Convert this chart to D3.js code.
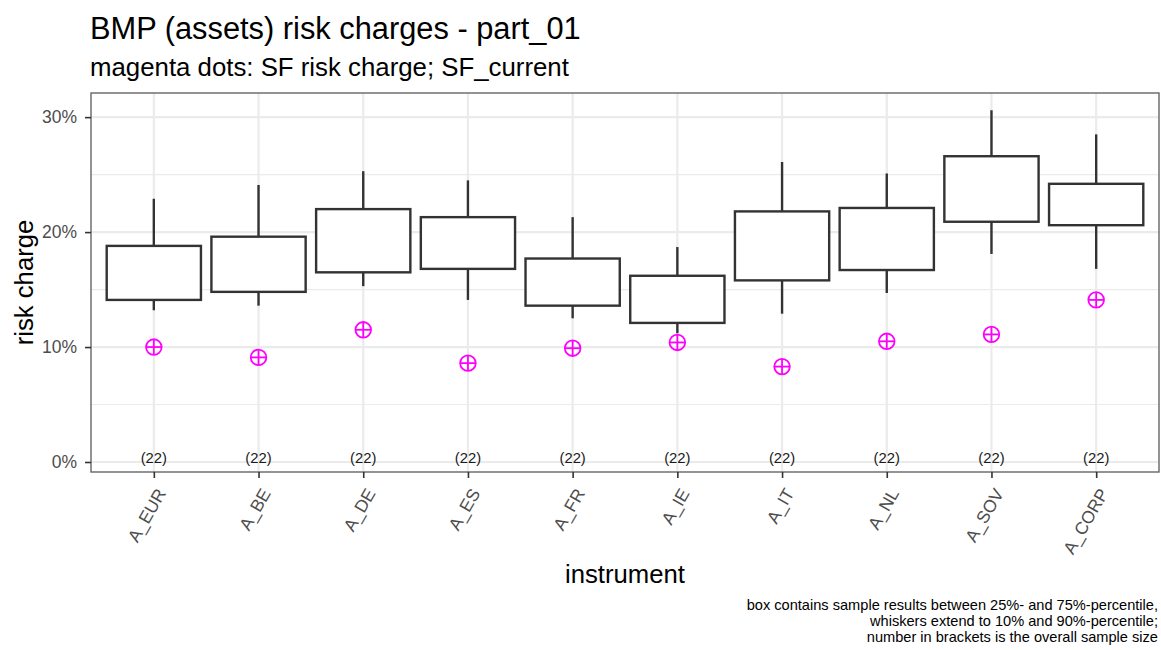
<!DOCTYPE html>
<html>
<head>
<meta charset="utf-8">
<script src="https://cdn.jsdelivr.net/npm/d3@7"></script>
<style>
body { margin: 0; background: #fff; }
text { font-family: "Liberation Sans", Arial, sans-serif; }
</style>
</head>
<body>
<script>
// categories and values
var instruments = ["A_EUR", "A_BE", "A_DE", "A_ES", "A_FR", "A_IE", "A_IT", "A_NL", "A_SOV", "A_CORP"];
var p10 = [0.132, 0.136, 0.153, 0.141, 0.125, 0.112, 0.129, 0.147, 0.181, 0.168];
var p25 = [0.141, 0.148, 0.165, 0.168, 0.136, 0.121, 0.158, 0.167, 0.209, 0.206];
var p75 = [0.188, 0.196, 0.220, 0.213, 0.177, 0.162, 0.218, 0.221, 0.266, 0.242];
var p90 = [0.229, 0.241, 0.253, 0.245, 0.213, 0.187, 0.261, 0.251, 0.306, 0.285];
var sfCurrent = [0.100, 0.091, 0.115, 0.086, 0.099, 0.104, 0.083, 0.105, 0.111, 0.141];
var sampleSize = [22, 22, 22, 22, 22, 22, 22, 22, 22, 22];
var yTicks = [0, 0.1, 0.2, 0.3];
var yMinor = [0.05, 0.15, 0.25];

var width = 1161, height = 650;
var margin = {left: 91, right: 2, top: 93, bottom: 178};

var svg = d3.select("body").append("svg")
    .attr("width", width)
    .attr("height", height);

var x = d3.scalePoint()
    .domain(instruments)
    .range([margin.left, width - margin.right])
    .padding(0.6);

var y = d3.scaleLinear()
    .domain([-0.0087, 0.321])
    .range([height - margin.bottom, margin.top]);

var step = x.step();
var boxW = step * 0.9;

// gridlines
var grid = svg.append("g");
grid.selectAll(".minor").data(yMinor).enter().append("line")
    .attr("x1", margin.left).attr("x2", width - margin.right)
    .attr("y1", d => y(d)).attr("y2", d => y(d))
    .attr("stroke", "#ebebeb").attr("stroke-width", 1.2);
grid.selectAll(".major").data(yTicks).enter().append("line")
    .attr("x1", margin.left).attr("x2", width - margin.right)
    .attr("y1", d => y(d)).attr("y2", d => y(d))
    .attr("stroke", "#ebebeb").attr("stroke-width", 2.2);
grid.selectAll(".vx").data(instruments).enter().append("line")
    .attr("x1", d => x(d)).attr("x2", d => x(d))
    .attr("y1", margin.top).attr("y2", height - margin.bottom)
    .attr("stroke", "#ebebeb").attr("stroke-width", 2.2);

// boxes
var data = instruments.map(function(d, i) {
    return {name: d, lo: p10[i], q1: p25[i], q3: p75[i], hi: p90[i], sf: sfCurrent[i], n: sampleSize[i]};
});

var boxes = svg.append("g").selectAll("g").data(data).enter().append("g");
boxes.append("line") // upper whisker
    .attr("x1", d => x(d.name)).attr("x2", d => x(d.name))
    .attr("y1", d => y(d.hi)).attr("y2", d => y(d.q3))
    .attr("stroke", "#333").attr("stroke-width", 2.4);
boxes.append("line") // lower whisker
    .attr("x1", d => x(d.name)).attr("x2", d => x(d.name))
    .attr("y1", d => y(d.q1)).attr("y2", d => y(d.lo))
    .attr("stroke", "#333").attr("stroke-width", 2.4);
boxes.append("rect")
    .attr("x", d => x(d.name) - boxW / 2)
    .attr("width", boxW)
    .attr("y", d => y(d.q3))
    .attr("height", d => y(d.q1) - y(d.q3))
    .attr("fill", "#fff")
    .attr("stroke", "#333").attr("stroke-width", 2.4);

// sample size labels
boxes.append("text")
    .attr("x", d => x(d.name))
    .attr("y", y(0) + 1.5)
    .attr("text-anchor", "middle")
    .attr("font-size", 14.8)
    .attr("fill", "#1a1a1a")
    .text(d => "(" + d.n + ")");

// SF dots (circle with plus)
var r = 7.8;
var dots = boxes.append("g")
    .attr("transform", d => "translate(" + x(d.name) + "," + y(d.sf) + ")")
    .attr("stroke", "#ff00ff").attr("stroke-width", 1.8).attr("fill", "none");
dots.append("circle").attr("r", r);
dots.append("line").attr("x1", -r).attr("x2", r);
dots.append("line").attr("y1", -r).attr("y2", r);

// panel border
svg.append("rect")
    .attr("x", margin.left).attr("y", margin.top)
    .attr("width", width - margin.right - margin.left)
    .attr("height", height - margin.bottom - margin.top)
    .attr("fill", "none").attr("stroke", "#666").attr("stroke-width", 1.4);

// y axis
var yAxis = svg.append("g")
    .attr("transform", "translate(" + margin.left + ",0)")
    .call(d3.axisLeft(y).tickValues(yTicks).tickFormat(d3.format(".0%")).tickSize(6).tickPadding(8));
yAxis.select(".domain").remove();
yAxis.selectAll("line").attr("stroke", "#333").attr("stroke-width", 1.6);
yAxis.selectAll("text").attr("font-size", 17.5).attr("fill", "#4d4d4d")
    .style("font-family", "Liberation Sans, Arial, sans-serif");

// x axis
var xAxis = svg.append("g")
    .attr("transform", "translate(0," + (height - margin.bottom) + ")")
    .call(d3.axisBottom(x).tickSize(6).tickPadding(4));
xAxis.select(".domain").remove();
xAxis.selectAll("line").attr("stroke", "#333").attr("stroke-width", 1.6);
xAxis.selectAll("text")
    .attr("font-size", 17.5).attr("fill", "#4d4d4d")
    .style("font-family", "Liberation Sans, Arial, sans-serif")
    .attr("text-anchor", "end")
    .attr("x", 0).attr("y", 0)
    .attr("dy", "0.35em")
    .attr("transform", "translate(7,18) rotate(-60)");

// titles
svg.append("text").attr("x", 90).attr("y", 39)
    .attr("font-size", 30.8).attr("fill", "#000")
    .text("BMP (assets) risk charges - part_01");
svg.append("text").attr("x", 90).attr("y", 76)
    .attr("font-size", 25.8).attr("fill", "#000")
    .text("magenta dots: SF risk charge; SF_current");

svg.append("text")
    .attr("transform", "translate(33," + ((margin.top + height - margin.bottom) / 2) + ") rotate(-90)")
    .attr("text-anchor", "middle")
    .attr("font-size", 25.7).attr("fill", "#000")
    .text("risk charge");

svg.append("text")
    .attr("x", (margin.left + width - margin.right) / 2)
    .attr("y", 583)
    .attr("text-anchor", "middle")
    .attr("font-size", 25.7).attr("fill", "#000")
    .text("instrument");

var caption = [
    "box contains sample results between 25%- and 75%-percentile,",
    "whiskers extend to 10% and 90%-percentile;",
    "number in brackets is the overall sample size"
];
svg.append("g").selectAll("text").data(caption).enter().append("text")
    .attr("x", 1158)
    .attr("y", (d, i) => 610 + i * 16)
    .attr("text-anchor", "end")
    .attr("font-size", 14.6).attr("fill", "#000")
    .text(d => d);
</script>
</body>
</html>
